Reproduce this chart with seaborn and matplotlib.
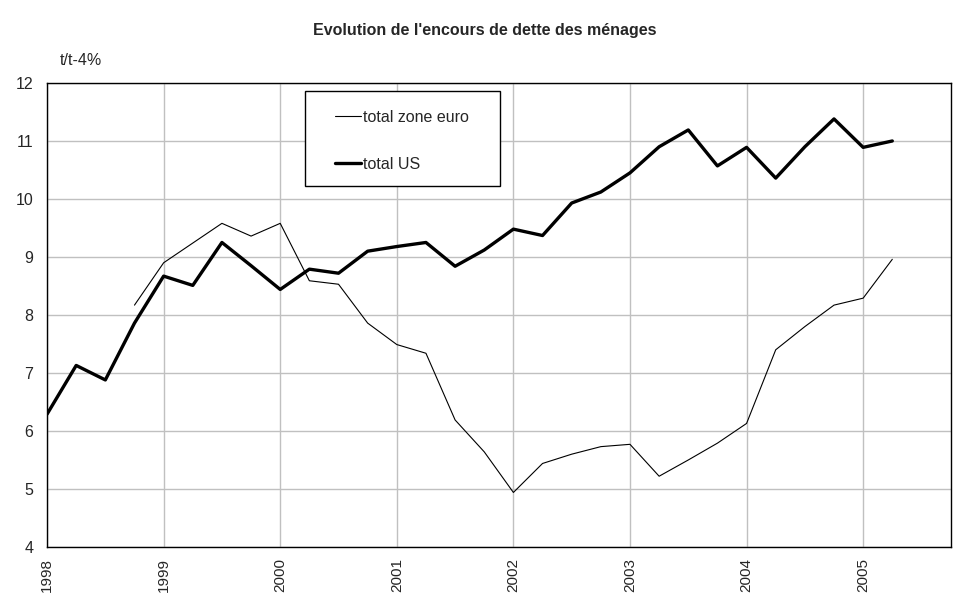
import seaborn as sns
import matplotlib.pyplot as plt
import pandas as pd
from matplotlib.patches import Rectangle

# quarterly observations, 1998Q1 .. 2005Q2
quarters = [f"{y}Q{q}" for y in range(1998, 2006) for q in range(1, 5)][:30]

us_values = [6.29, 7.13, 6.88, 7.86, 8.67, 8.51, 9.25, 8.85, 8.44, 8.79, 8.72, 9.10,
             9.18, 9.25, 8.84, 9.12, 9.48, 9.37, 9.93, 10.12, 10.45, 10.90, 11.19, 10.57,
             10.89, 10.36, 10.90, 11.38, 10.89, 11.00]

euro_values = [None, None, None, 8.17, 8.90, 9.24, 9.58, 9.36, 9.58, 8.59, 8.53, 7.86,
               7.49, 7.34, 6.19, 5.64, 4.94, 5.44, 5.60, 5.73, 5.77, 5.22, 5.50, 5.79,
               6.13, 7.40, 7.80, 8.17, 8.29, 8.96]

year_ticks = [1998, 1999, 2000, 2001, 2002, 2003, 2004, 2005]

df = pd.DataFrame({"quarter": quarters, "total zone euro": euro_values, "total US": us_values})
df["t"] = pd.PeriodIndex(df["quarter"], freq="Q").map(lambda p: p.year + (p.quarter - 1) / 4)

sns.set_style("white")
plt.rcParams["font.family"] = ["Liberation Sans", "DejaVu Sans"]
plt.rcParams["font.size"] = 11

fig = plt.figure(figsize=(9.7, 6.03), dpi=100)
ax = fig.add_axes([0.0485, 0.0929, 0.9315, 0.7695])

sns.lineplot(data=df, x="t", y="total zone euro", color="black", linewidth=0.8, ax=ax, label="total zone euro")
sns.lineplot(data=df, x="t", y="total US", color="black", linewidth=2.4, ax=ax, label="total US")

ax.set_xlim(1998, 2005.75)
ax.set_ylim(4, 12)
ax.set_xticks(year_ticks)
ax.set_xticklabels([str(y) for y in year_ticks], rotation=90, fontsize=11)
ax.set_yticks(range(4, 13))
ax.tick_params(axis="y", length=0, pad=10, labelsize=11.5)
ax.tick_params(axis="x", direction="in", length=5, width=1, color="black", pad=8)
ax.grid(True, color="#c0c0c0", linewidth=1)
ax.set_axisbelow(True)
ax.set_xlabel("")
ax.set_ylabel("")
for s in ax.spines.values():
    s.set_color("black")
    s.set_linewidth(1)

# Excel-style legend: plain box with wide side margins
ax.add_patch(Rectangle((0.2854, 0.778), 0.2156, 0.2048, transform=ax.transAxes, fill=True,
                       facecolor="white", edgecolor="black", linewidth=1, zorder=4))
leg = ax.legend(loc="upper left", bbox_to_anchor=(0.3186, 0.9425), frameon=False,
                handlelength=1.65, handletextpad=0.12, labelspacing=2.0, borderpad=0,
                borderaxespad=0, fontsize=11.5)
leg.set_zorder(5)

fig.text(0.5, 0.95, "Evolution de l'encours de dette des ménages", ha="center", va="center",
         fontsize=11.5, fontweight="bold")
fig.text(0.062, 0.90, "t/t-4%", ha="left", va="center", fontsize=11.5)

fig.savefig("out.png", dpi=100)
